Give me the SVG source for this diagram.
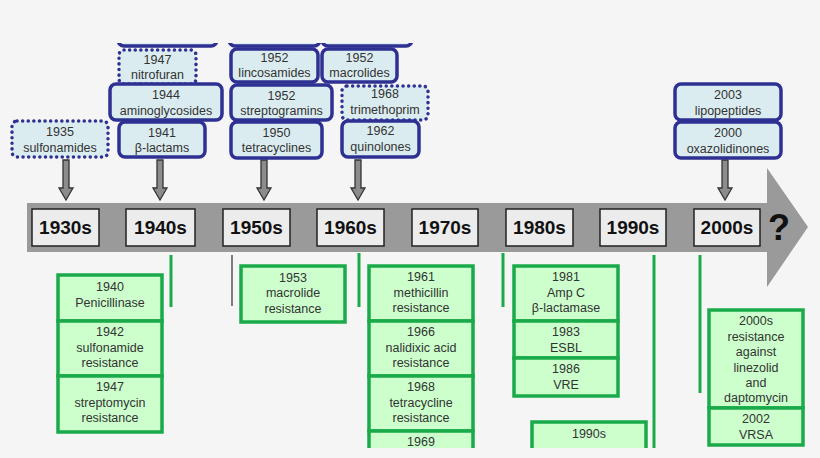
<svg xmlns="http://www.w3.org/2000/svg" width="820" height="458" viewBox="0 0 820 458">
<defs>
<style>
text{font-family:"Liberation Sans",Arial,sans-serif;font-size:12.5px;fill:#333;text-anchor:middle}
.ab{fill:#dbecf0;stroke:#2e3192;stroke-width:3.5}
.ad{fill:#dbecf0;stroke:#2e3192;stroke-width:3.5;stroke-dasharray:0.1 5.5;stroke-linecap:round}
.r{fill:#ccffcc;stroke:#1aaa4a;stroke-width:3.5}
.dec{fill:#ececec;stroke:#222;stroke-width:1.5}
.dt{font-size:19px;font-weight:bold;fill:#111}
.ar{fill:#8c8c8c;stroke:#333;stroke-width:1.3}
.tg{stroke:#1aaa4a;stroke-width:3}
</style>
<clipPath id="c"><rect x="0" y="43" width="820" height="405"/></clipPath>
</defs>
<rect width="820" height="458" fill="#f5f5f5"/>
<g clip-path="url(#c)">
<g id="timeline">
<polygon points="27,203 767,203 767,168 808,227 767,287 767,252 27,252" fill="#9a9a9a"/>
<rect class="dec" x="32" y="209" width="67" height="37"/><text class="dt" x="65.5" y="234">1930s</text>
<rect class="dec" x="126" y="209" width="69" height="37"/><text class="dt" x="160.5" y="234">1940s</text>
<rect class="dec" x="223" y="209" width="67" height="37"/><text class="dt" x="256.5" y="234">1950s</text>
<rect class="dec" x="317" y="209" width="67" height="37"/><text class="dt" x="350.5" y="234">1960s</text>
<rect class="dec" x="412" y="209" width="66" height="37"/><text class="dt" x="445" y="234">1970s</text>
<rect class="dec" x="506" y="209" width="67" height="37"/><text class="dt" x="539.5" y="234">1980s</text>
<rect class="dec" x="600" y="209" width="66" height="37"/><text class="dt" x="633" y="234">1990s</text>
<rect class="dec" x="694" y="209" width="66" height="37"/><text class="dt" x="727" y="234">2000s</text>
<text x="779" y="240" style="font-size:36px;font-weight:bold;fill:#111">?</text>
</g>
<g id="connectors">
<polygon class="ar" points="63,160 69,160 69,188 73,188 66,200 59,188 63,188"/>
<polygon class="ar" points="157,160 163,160 163,188 167,188 160,200 153,188 157,188"/>
<polygon class="ar" points="261,160 267,160 267,188 271,188 264,200 257,188 261,188"/>
<polygon class="ar" points="355,160 361,160 361,188 365,188 358,200 351,188 355,188"/>
<polygon class="ar" points="722,160 728,160 728,188 732,188 725,200 718,188 722,188"/>
<line class="tg" x1="171" y1="255" x2="171" y2="307"/>
<line x1="232" y1="255" x2="232" y2="306" stroke="#555" stroke-width="1.5"/>
<line class="tg" x1="359" y1="253" x2="359" y2="307"/>
<line class="tg" x1="503" y1="253" x2="503" y2="307"/>
<line class="tg" x1="654" y1="255" x2="654" y2="460"/>
<line class="tg" x1="700" y1="255" x2="700" y2="393"/>
</g>
<g id="top-cut">
<rect class="ab" x="118" y="20" width="99" height="26" rx="6"/>
<rect class="ab" x="229" y="20" width="91" height="26" rx="6"/>
<rect class="ab" x="322" y="20" width="90" height="26" rx="6"/>
</g>
<g id="a1935"><rect class="ad" x="12" y="121" width="96" height="36" rx="5"/><text x="60" y="136">1935</text><text x="60" y="152">sulfonamides</text></g>
<g id="a1947"><rect class="ad" x="119" y="50" width="77" height="34" rx="5"/><text x="157.5" y="64">1947</text><text x="157.5" y="79">nitrofuran</text></g>
<g id="a1944"><rect class="ab" x="110" y="84" width="112" height="36" rx="6"/><text x="166" y="99">1944</text><text x="166" y="115">aminoglycosides</text></g>
<g id="a1941"><rect class="ab" x="119" y="122" width="86" height="35" rx="6"/><text x="162" y="137">1941</text><text x="162" y="152">β-lactams</text></g>
<g id="a1952l"><rect class="ab" x="231" y="49" width="87" height="33" rx="6"/><text x="274.5" y="62">1952</text><text x="274.5" y="77">lincosamides</text></g>
<g id="a1952m"><rect class="ab" x="322" y="49" width="75" height="33" rx="6"/><text x="359.5" y="62">1952</text><text x="359.5" y="77">macrolides</text></g>
<g id="a1952s"><rect class="ab" x="231" y="85" width="101" height="35" rx="6"/><text x="281.5" y="100">1952</text><text x="281.5" y="115">streptogramins</text></g>
<g id="a1950"><rect class="ab" x="231" y="122" width="91" height="36" rx="6"/><text x="276.5" y="137">1950</text><text x="276.5" y="152">tetracyclines</text></g>
<g id="a1968"><rect class="ad" x="342" y="86" width="86" height="34" rx="5"/><text x="385" y="98">1968</text><text x="385" y="114">trimethoprim</text></g>
<g id="a1962"><rect class="ab" x="342" y="121" width="77" height="36" rx="6"/><text x="380.5" y="135">1962</text><text x="380.5" y="151">quinolones</text></g>
<g id="a2003"><rect class="ab" x="675" y="84" width="106" height="36" rx="6"/><text x="728" y="99">2003</text><text x="728" y="115">lipopeptides</text></g>
<g id="a2000"><rect class="ab" x="675" y="122" width="106" height="36" rx="6"/><text x="728" y="137">2000</text><text x="728" y="153">oxazolidinones</text></g>
<g id="r1940"><rect class="r" x="58" y="275" width="104" height="46"/><text x="110" y="291">1940</text><text x="110" y="307">Penicillinase</text></g>
<g id="r1942"><rect class="r" x="58" y="321" width="104" height="55"/><text x="110" y="336">1942</text><text x="110" y="352">sulfonamide</text><text x="110" y="367">resistance</text></g>
<g id="r1947"><rect class="r" x="58" y="376" width="104" height="56"/><text x="110" y="391">1947</text><text x="110" y="407">streptomycin</text><text x="110" y="422">resistance</text></g>
<g id="r1953"><rect class="r" x="241" y="266" width="104" height="56"/><text x="293" y="282">1953</text><text x="293" y="297">macrolide</text><text x="293" y="313">resistance</text></g>
<g id="r1961"><rect class="r" x="369" y="266" width="104" height="55"/><text x="421" y="281">1961</text><text x="421" y="297">methicillin</text><text x="421" y="312">resistance</text></g>
<g id="r1966"><rect class="r" x="369" y="321" width="104" height="55"/><text x="421" y="336">1966</text><text x="421" y="352">nalidixic acid</text><text x="421" y="367">resistance</text></g>
<g id="r1968"><rect class="r" x="369" y="376" width="104" height="55"/><text x="421" y="391">1968</text><text x="421" y="407">tetracycline</text><text x="421" y="422">resistance</text></g>
<g id="r1969"><rect class="r" x="369" y="431" width="104" height="40"/><text x="421" y="446">1969</text></g>
<g id="r1981"><rect class="r" x="514" y="266" width="104" height="55"/><text x="566" y="281">1981</text><text x="566" y="297">Amp C</text><text x="566" y="312">β-lactamase</text></g>
<g id="r1983"><rect class="r" x="514" y="321" width="104" height="37"/><text x="566" y="336">1983</text><text x="566" y="352">ESBL</text></g>
<g id="r1986"><rect class="r" x="514" y="358" width="104" height="38"/><text x="566" y="373">1986</text><text x="566" y="389">VRE</text></g>
<g id="r1990"><rect class="r" x="532" y="422" width="114" height="40"/><text x="589" y="438">1990s</text></g>
<g id="r2000s"><rect class="r" x="709" y="310" width="94" height="98"/><text x="756" y="325">2000s</text><text x="756" y="341">resistance</text><text x="756" y="356">against</text><text x="756" y="372">linezolid</text><text x="756" y="387">and</text><text x="756" y="402">daptomycin</text></g>
<g id="r2002"><rect class="r" x="709" y="408" width="94" height="37"/><text x="756" y="423">2002</text><text x="756" y="439">VRSA</text></g>
</g>
</svg>
